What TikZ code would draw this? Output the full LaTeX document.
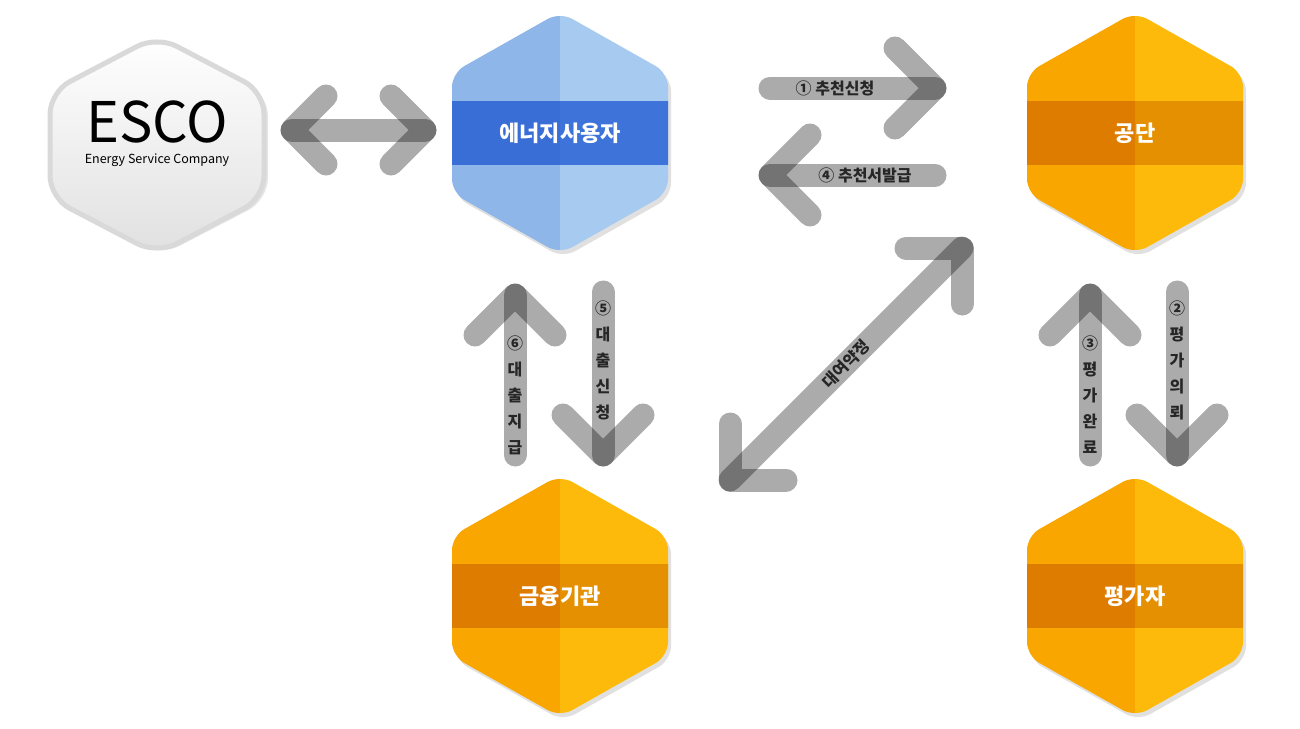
\documentclass[tikz,border=0pt]{standalone}
\usepackage{fontspec}
\setmainfont{Noto Sans CJK KR}
\definecolor{blueL}{RGB}{142,182,232}
\definecolor{blueR}{RGB}{166,202,240}
\definecolor{blueBL}{RGB}{56,110,214}
\definecolor{blueBR}{RGB}{62,116,218}
\definecolor{orL}{RGB}{249,166,0}
\definecolor{orR}{RGB}{253,186,10}
\definecolor{orBL}{RGB}{222,124,0}
\definecolor{orBR}{RGB}{228,144,0}
\tikzset{
  hexpath/.style={rounded corners=14pt},
  pipe/.style={line width=23pt,line cap=round,line join=round,black,opacity=0.33},
  lab/.style={font=\fontsize{16}{26}\selectfont\bfseries,text=black!85,align=center},
  big/.style={font=\fontsize{22}{26}\selectfont\bfseries,text=white}
}
\newcommand{\hexshape}[2]{(#1,#2-121) -- (#1+108,#2-60) -- (#1+108,#2+60) -- (#1,#2+121) -- (#1-108,#2+60) -- (#1-108,#2-60) -- cycle}
% \hexa{name}{cx}{cy}{left}{right}{band left}{band right}{label}
\newcommand{\hexa}[8]{
  \fill[black,opacity=0.12,hexpath] \hexshape{#2+3}{#3+4};
  \begin{scope}
    \clip[hexpath] \hexshape{#2}{#3};
    \fill[#4] (#2-120,#3-130) rectangle (#2,#3+130);
    \fill[#5] (#2,#3-130) rectangle (#2+120,#3+130);
    \fill[#6] (#2-120,#3-32) rectangle (#2,#3+32);
    \fill[#7] (#2,#3-32) rectangle (#2+120,#3+32);
  \end{scope}
  \node[big] (#1) at (#2,#3) {#8};
}
\begin{document}
\begin{tikzpicture}[x=1pt,y=-1pt]
  \useasboundingbox (0,0) rectangle (1300,728);
  % ESCO
  \fill[black,opacity=0.10,rounded corners=22pt] (160,38) -- (268,94) -- (268,200) -- (160,256) -- (52,200) -- (52,94) -- cycle;
  \shade[top color=white,bottom color=black!12,draw=black!15,line width=5pt,rounded corners=22pt]
    (157,36) -- (264,92) -- (264,198) -- (157,254) -- (50,198) -- (50,92) -- cycle;
  \node[font=\fontsize{56}{56}\selectfont] (esco) at (157,122) {ESCO};
  \node[font=\fontsize{12.5}{14}\selectfont] (escosub) at (157,160) {Energy Service Company};
  % hexagons
  \hexa{user}{560}{133}{blueL}{blueR}{blueBL}{blueBR}{에너지사용자}
  \hexa{gongdan}{1135}{133}{orL}{orR}{orBL}{orBR}{공단}
  \hexa{bank}{560}{596}{orL}{orR}{orBL}{orBR}{금융기관}
  \hexa{rater}{1135}{596}{orL}{orR}{orBL}{orBR}{평가자}
  % ESCO <-> user
  \coordinate (e1) at (292,130); \coordinate (e2) at (425,130);
  \draw[pipe] (e1) -- (e2);
  \draw[pipe] ([shift={(34,-34)}]e1) -- (e1) -- ++(34,34);
  \draw[pipe] ([shift={(-34,-34)}]e2) -- (e2) -- ++(-34,34);
  % (1) request
  \coordinate (a1) at (770,88); \coordinate (b1) at (935,88);
  \draw[pipe] (a1) -- (b1);
  \draw[pipe] ([shift={(-40,-40)}]b1) -- (b1) -- ++(-40,40);
  \node[lab] (l1) at (835,88) {① 추천신청};
  % (4) issue
  \coordinate (a4) at (935,175); \coordinate (b4) at (770,175);
  \draw[pipe] (a4) -- (b4);
  \draw[pipe] ([shift={(40,-40)}]b4) -- (b4) -- ++(40,40);
  \node[lab] (l4) at (865,175) {④ 추천서발급};
  % (6) loan up
  \coordinate (a6) at (515,455); \coordinate (b6) at (515,295);
  \draw[pipe] (a6) -- (b6);
  \draw[pipe] ([shift={(-40,40)}]b6) -- (b6) -- ++(40,40);
  \node[lab] (l6) at (515,395) {⑥\\대\\출\\지\\급};
  % (5) loan request
  \coordinate (a5) at (603,292); \coordinate (b5) at (603,455);
  \draw[pipe] (a5) -- (b5);
  \draw[pipe] ([shift={(-40,-40)}]b5) -- (b5) -- ++(40,-40);
  \node[lab] (l5) at (603,360) {⑤\\대\\출\\신\\청};
  % (3) done
  \coordinate (a3) at (1090,455); \coordinate (b3) at (1090,295);
  \draw[pipe] (a3) -- (b3);
  \draw[pipe] ([shift={(-40,40)}]b3) -- (b3) -- ++(40,40);
  \node[lab] (l3) at (1090,395) {③\\평\\가\\완\\료};
  % (2) rating request
  \coordinate (a2) at (1177,292); \coordinate (b2) at (1177,455);
  \draw[pipe] (a2) -- (b2);
  \draw[pipe] ([shift={(-40,-40)}]b2) -- (b2) -- ++(40,-40);
  \node[lab] (l2) at (1177,360) {②\\평\\가\\의\\뢰};
  % lease contract
  \coordinate (d1) at (730,480); \coordinate (d2) at (962,248);
  \draw[pipe] (d1) -- (d2);
  \draw[pipe] ([shift={(0,-56)}]d1) -- (d1) -- ++(56,0);
  \draw[pipe] ([shift={(0,56)}]d2) -- (d2) -- ++(-56,0);
  \node[lab,rotate=45,inner sep=0pt] (ld) at (846,364) {대여약정};
\end{tikzpicture}
\end{document}
